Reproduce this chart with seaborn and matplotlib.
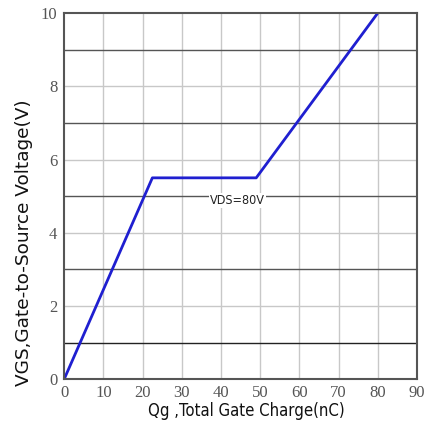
import seaborn as sns
import matplotlib.pyplot as plt
import pandas as pd

# gate charge curve
qg = [0, 22.5, 49, 80]
vgs = [0, 5.5, 5.5, 10]
x_ticks = [0, 10, 20, 30, 40, 50, 60, 70, 80, 90]
y_ticks = [0, 2, 4, 6, 8, 10]
dark_rows = [1, 3, 5, 7, 9]
light_rows = [2, 4, 6, 8]

df = pd.DataFrame({"Qg": qg, "VGS": vgs})

sns.set_style("white")
fig = plt.figure(figsize=(4.28, 4.25), dpi=100)
ax = fig.add_axes([0.150, 0.108, 0.824, 0.861])

for x in x_ticks[1:-1]:
    ax.axvline(x, color="#c8c8c8", lw=1.0, zorder=0)
for y in light_rows:
    ax.axhline(y, color="#c8c8c8", lw=1.0, zorder=0)
for y in dark_rows:
    ax.axhline(y, color="#555555" if y != 1 else "#222222", lw=1.0, zorder=0)

sns.lineplot(data=df, x="Qg", y="VGS", color="#1f1fd0", lw=2, ax=ax)

ax.text(37.2, 5.06, "VDS=80V", fontsize=9, family="DejaVu Sans", fontstretch="condensed",
        color="#222222", va="top", ha="left",
        bbox=dict(facecolor="white", edgecolor="none", pad=0.5))

ax.set_xlim(0, 90)
ax.set_ylim(0, 10)
ax.set_xticks(x_ticks)
ax.set_yticks(y_ticks)
for lab in ax.get_xticklabels() + ax.get_yticklabels():
    lab.set_family("Liberation Serif")
    lab.set_fontsize(12)
    lab.set_color("#555555")
ax.tick_params(length=0, pad=5)
ax.tick_params(axis="x", pad=4)

ax.set_xlabel("Qg ,Total Gate Charge(nC)", family="DejaVu Sans", fontstretch="condensed",
              fontsize=12, color="#111111")
ax.xaxis.set_label_coords(0.517, -0.062)
ax.set_ylabel("VGS,Gate-to-Source Voltage(V)", family="DejaVu Sans",
              fontsize=13.3, color="#111111")
ax.yaxis.set_label_coords(-0.113, 0.374)
ax.yaxis.label.set_va("center")

for s in ax.spines.values():
    s.set_color("#555555")
    s.set_linewidth(1.5)

fig.savefig("out.png", dpi=100)
